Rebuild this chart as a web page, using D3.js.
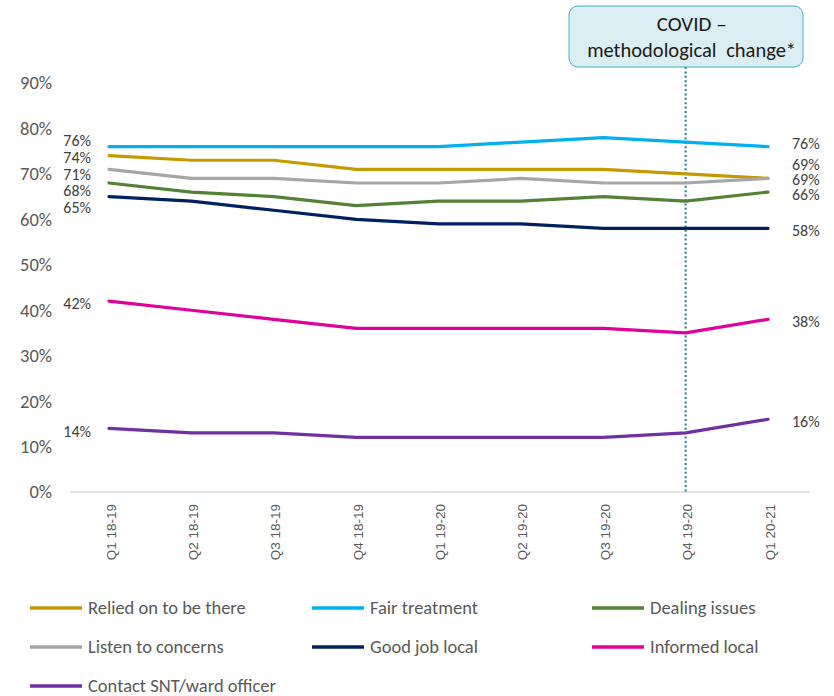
<!DOCTYPE html>
<html>
<head>
<meta charset="utf-8">
<script src="https://cdn.jsdelivr.net/npm/d3@7"></script>
<style>
  html, body { margin: 0; padding: 0; background: #fff; }
  svg { display: block; font-family: Carlito, Lato, "Open Sans", sans-serif; }
</style>
</head>
<body>
<svg id="chart" width="834" height="696"></svg>
<script>
const quarters = ["Q1 18-19", "Q2 18-19", "Q3 18-19", "Q4 18-19", "Q1 19-20", "Q2 19-20", "Q3 19-20", "Q4 19-20", "Q1 20-21"];
const yTicks = [0, 10, 20, 30, 40, 50, 60, 70, 80, 90];

const reliedOn     = [74, 73, 73, 71, 71, 71, 71, 70, 69];
const fairTreat    = [76, 76, 76, 76, 76, 77, 78, 77, 76];
const dealingIss   = [68, 66, 65, 63, 64, 64, 65, 64, 66];
const listenConc   = [71, 69, 69, 68, 68, 69, 68, 68, 69];
const goodJobLocal = [65, 64, 62, 60, 59, 59, 58, 58, 58];
const informedLoc  = [42, 40, 38, 36, 36, 36, 36, 35, 38];
const contactSNT   = [14, 13, 13, 12, 12, 12, 12, 13, 16];

const seriesNames  = ["Relied on to be there", "Fair treatment", "Dealing issues", "Listen to concerns", "Good job local", "Informed local", "Contact SNT/ward officer"];
const seriesColors = ["#c49a00", "#00b0f0", "#538135", "#a6a6a6", "#002060", "#e0009a", "#7030a0"];
const seriesValues = [reliedOn, fairTreat, dealingIss, listenConc, goodJobLocal, informedLoc, contactSNT];

const covidQuarter = "Q4 19-20";
const covidNote = ["COVID –", "methodological change*"];

const series = seriesNames.map((name, i) => ({ name, color: seriesColors[i], values: seriesValues[i] }));

const svg = d3.select("#chart");
const plot = { left: 70, right: 810, top: 83, bottom: 492 };

const x = d3.scalePoint().domain(quarters).range([109, 768]);
const y = d3.scaleLinear().domain([0, 90]).range([plot.bottom, plot.top]);

// y axis labels (no axis line)
const yAxis = d3.axisLeft(y).tickValues(yTicks).tickFormat(d => d + "%").tickSize(0).tickPadding(0);
const gy = svg.append("g").attr("transform", "translate(52,0)").call(yAxis);
gy.select(".domain").remove();
gy.selectAll("text").attr("fill", "#595959").style("font-size", "18.5px").style("font-family", "Carlito, Lato, sans-serif");

// x axis line and rotated labels
const xAxis = d3.axisBottom(x).tickSize(0).tickPadding(0);
const gx = svg.append("g").attr("transform", `translate(0,${plot.bottom})`).call(xAxis);
gx.select(".domain").attr("d", `M${plot.left},0H${plot.right}`).attr("stroke", "#d9d9d9").attr("stroke-width", 1.5);
gx.selectAll("text")
  .attr("fill", "#595959")
  .style("font-size", "13.5px")
  .style("font-family", "'Liberation Sans', Arial, sans-serif")
  .attr("text-anchor", "end")
  .attr("dy", null)
  .attr("y", 0)
  .attr("transform", "translate(6,12) rotate(-90)");

// COVID marker line and callout
const cx = x(covidQuarter);
svg.append("line")
  .attr("x1", cx).attr("x2", cx)
  .attr("y1", 67).attr("y2", plot.bottom)
  .attr("stroke", "#31849b").attr("stroke-width", 2.2)
  .attr("stroke-dasharray", "2,2.4");

svg.append("rect")
  .attr("x", 569).attr("y", 6).attr("width", 234).attr("height", 61)
  .attr("rx", 9)
  .attr("fill", "#daeef3").attr("stroke", "#4bacc6").attr("stroke-width", 1);
svg.append("text")
  .attr("x", cx + 6).attr("y", 31).attr("text-anchor", "middle")
  .attr("fill", "#1a1a1a").style("font-size", "21px").text(covidNote[0]);
svg.append("text")
  .attr("x", cx + 6).attr("y", 57).attr("text-anchor", "middle")
  .attr("fill", "#1a1a1a").style("font-size", "20.5px").style("word-spacing", "5px").text(covidNote[1]);

// series lines
const line = d3.line().x((d, i) => x(quarters[i])).y(d => y(d));
svg.append("g").selectAll("path")
  .data(series)
  .join("path")
  .attr("d", d => line(d.values))
  .attr("fill", "none")
  .attr("stroke", d => d.color)
  .attr("stroke-width", 3.2)
  .attr("stroke-linejoin", "round")
  .attr("stroke-linecap", "round");

// start labels (top cluster stacked to avoid overlap)
const startLabelY = [157, 140, 190, 174, 207, 303, 431];
svg.append("g").selectAll("text")
  .data(series)
  .join("text")
  .attr("x", 91)
  .attr("y", (d, i) => startLabelY[i])
  .attr("dy", "0.35em")
  .attr("text-anchor", "end")
  .attr("fill", "#404040")
  .style("font-size", "16px")
  .text(d => d.values[0] + "%");

// end labels
const endLabelY = [164, 143, 194, 179, 230, 321, 421];
svg.append("g").selectAll("text")
  .data(series)
  .join("text")
  .attr("x", 792)
  .attr("y", (d, i) => endLabelY[i])
  .attr("dy", "0.35em")
  .attr("fill", "#404040")
  .style("font-size", "16px")
  .text(d => d.values[d.values.length - 1] + "%");

// legend
const legendCols = [30, 312, 592];
const legendRows = [608, 647, 686];
const lg = svg.append("g").selectAll("g")
  .data(series)
  .join("g")
  .attr("transform", (d, i) => `translate(${legendCols[i % 3]},${legendRows[Math.floor(i / 3)]})`);
lg.append("line")
  .attr("x1", 0).attr("x2", 52).attr("y1", 0).attr("y2", 0)
  .attr("stroke", d => d.color).attr("stroke-width", 3.5);
lg.append("text")
  .attr("x", 58).attr("y", 0).attr("dy", "0.35em")
  .attr("fill", "#595959").style("font-size", "18.5px")
  .text(d => d.name);
</script>
</body>
</html>
